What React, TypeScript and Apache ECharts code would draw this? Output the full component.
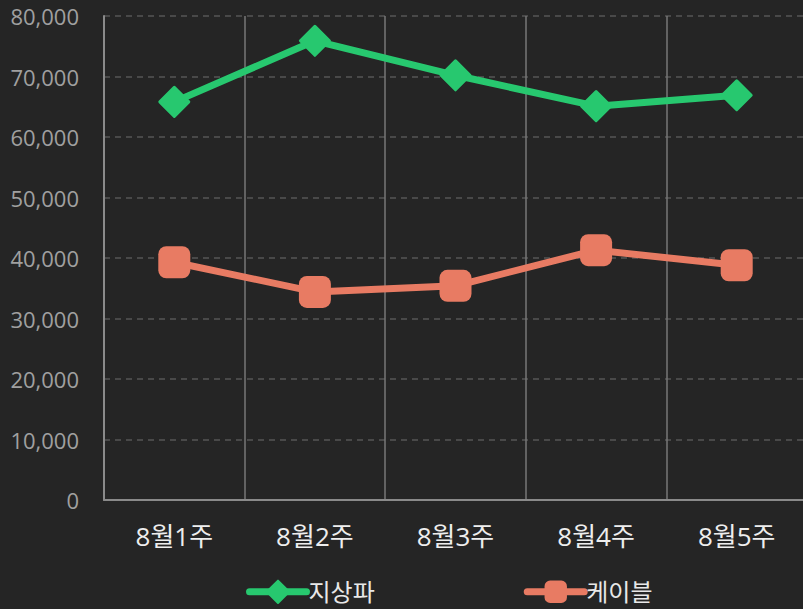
import React, { useEffect, useRef } from "react";
import * as echarts from "echarts";

const categories = ["8월1주", "8월2주", "8월3주", "8월4주", "8월5주"];
const terrestrial = [65800, 75900, 70200, 65100, 66900];
const cable = [39300, 34400, 35400, 41300, 38800];
const yTicks = { min: 0, max: 80000, interval: 10000 };

export default function App() {
  const ref = useRef<HTMLDivElement>(null);
  useEffect(() => {
    document.body.style.margin = "0";
    document.body.style.overflow = "hidden";
    document.body.style.background = "#252525";
    const chart = echarts.init(ref.current!, null, { renderer: "svg" });
    const font = "'Open Sans', 'Noto Sans CJK KR', sans-serif";
    chart.setOption({
      animation: false,
      backgroundColor: "#252525",
      textStyle: { fontFamily: font },
      grid: { left: 104, right: 0, top: 16, bottom: 109, containLabel: false },
      legend: {
        left: 241,
        bottom: 0,
        itemWidth: 57,
        itemHeight: 28,
        itemGap: 149,
        lineStyle: { width: 7, cap: "round" },
        textStyle: { color: "#e8e8e8", fontSize: 24, fontFamily: font, padding: [0, 0, 0, -3] },
        data: ["지상파", "케이블"],
      },
      xAxis: {
        type: "category",
        data: categories,
        boundaryGap: true,
        axisLine: { lineStyle: { color: "#8a8a8a", width: 2 } },
        axisTick: { show: false },
        axisLabel: { color: "#eeeeee", fontSize: 26, margin: 23, fontFamily: font },
        splitLine: { show: true, lineStyle: { color: "#777777", width: 1.5 } },
      },
      yAxis: {
        type: "value",
        min: yTicks.min,
        max: yTicks.max,
        interval: yTicks.interval,
        axisLine: { show: true, lineStyle: { color: "#8a8a8a", width: 2 } },
        axisTick: { show: false },
        axisLabel: {
          color: "#a0a0a0",
          fontSize: 22,
          margin: 25,
          fontFamily: font,
          formatter: (v: number) => v.toLocaleString("en-US"),
        },
        splitLine: { show: true, lineStyle: { color: "#555555", type: [6, 5], width: 1.5 } },
      },
      series: [
        {
          name: "지상파",
          type: "line",
          data: terrestrial,
          symbol: "diamond",
          symbolSize: 29,
          color: "#27c86f",
          lineStyle: { width: 7, color: "#27c86f" },
          itemStyle: { color: "#27c86f", borderColor: "#27c86f", borderWidth: 3, borderJoin: "round" },
        },
        {
          name: "케이블",
          type: "line",
          data: cable,
          symbol: "roundRect",
          symbolSize: 32,
          color: "#e87b63",
          lineStyle: { width: 7, color: "#e87b63" },
          itemStyle: { color: "#e87b63" },
        },
      ],
    });
    return () => chart.dispose();
  }, []);
  return (
    <div style={{ width: 803, height: 609, overflow: "hidden" }}>
      <div ref={ref} style={{ width: 807, height: 609 }} />
    </div>
  );
}
